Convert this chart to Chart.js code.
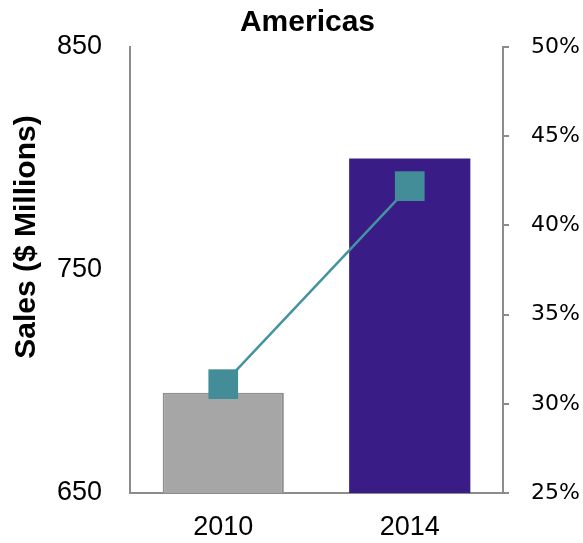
<!DOCTYPE html>
<html>
<head>
<meta charset="utf-8">
<script src="https://cdn.jsdelivr.net/npm/chart.js@4"></script>
<style>
  html, body { margin: 0; padding: 0; background: #fff; }
  #wrap { width: 583px; height: 543px; }
</style>
</head>
<body>
<div id="wrap"><canvas id="salesChart" width="583" height="543"></canvas></div>
<script>
// Americas: sales bars (left axis) and share line (right axis)
const years = ['2010', '2014'];
const salesMillions = [695, 800];
const sharePct = [31.1, 42.2];
const barColors = ['#a6a6a6', '#3a1c87'];
const barBorders = ['#909090', '#3a1c87'];

// Rotated left-axis title, drawn by hand so it can sit where we want it
const yTitlePlugin = {
    id: 'yTitle',
    afterDraw(chart) {
        const ctx = chart.ctx;
        ctx.save();
        ctx.translate(27, 237);
        ctx.rotate(-Math.PI / 2);
        ctx.font = 'bold 30px "Liberation Sans", Arial, sans-serif';
        ctx.fillStyle = '#000';
        ctx.textAlign = 'center';
        ctx.textBaseline = 'middle';
        ctx.fillText('Sales ($ Millions)', 0, 0);
        ctx.restore();
    }
};

const axisGray = '#8c8c8c';

new Chart(document.getElementById('salesChart'), {
    data: {
        labels: years,
        datasets: [
            {
                type: 'line',
                label: 'Share',
                data: sharePct,
                yAxisID: 'y1',
                borderColor: '#4592a0',
                borderWidth: 2.5,
                pointStyle: 'rect',
                pointRadius: 21,
                pointHoverRadius: 21,
                pointBackgroundColor: '#438d98',
                pointBorderColor: '#438d98',
                pointBorderWidth: 0,
                order: 0
            },
            {
                type: 'bar',
                label: 'Sales',
                data: salesMillions,
                yAxisID: 'y',
                backgroundColor: barColors,
                borderColor: barBorders,
                borderWidth: [2, 0],
                barPercentage: 0.65,
                categoryPercentage: 1,
                order: 1
            }
        ]
    },
    options: {
        responsive: false,
        animation: false,
        layout: { padding: { left: 32, right: 0, top: 0, bottom: 0 } },
        plugins: {
            legend: { display: false },
            tooltip: { enabled: false },
            title: {
                display: true,
                text: 'Americas',
                color: '#000',
                font: { family: '"Liberation Sans", Arial, sans-serif', size: 30, weight: 'bold', lineHeight: 1.2 },
                padding: { top: 5, bottom: 6 }
            }
        },
        scales: {
            x: {
                grid: { display: false, drawTicks: false },
                border: { display: true, color: axisGray, width: 2 },
                ticks: {
                    color: '#000',
                    padding: 18,
                    font: { family: '"Liberation Sans", Arial, sans-serif', size: 27 }
                },
                afterFit(scale) { scale.height = 50; }
            },
            y: {
                position: 'left',
                min: 650,
                max: 850,
                grid: { display: false, drawTicks: false },
                border: { display: true, color: axisGray, width: 2 },
                ticks: {
                    stepSize: 100,
                    color: '#000',
                    padding: 28,
                    font: { family: '"Liberation Sans", Arial, sans-serif', size: 27 }
                },
                afterFit(scale) { scale.width = 98; }
            },
            y1: {
                position: 'right',
                min: 25,
                max: 50,
                grid: {
                    drawOnChartArea: false,
                    drawTicks: true,
                    tickLength: 6,
                    color: axisGray,
                    lineWidth: 2
                },
                border: { display: true, color: axisGray, width: 2 },
                ticks: {
                    stepSize: 5,
                    color: '#000',
                    padding: 22,
                    font: { family: '"DejaVu Sans", Verdana, sans-serif', size: 22 },
                    callback: (v) => v + '%'
                },
                afterFit(scale) { scale.width = 80; }
            }
        }
    },
    plugins: [yTitlePlugin]
});
</script>
</body>
</html>
